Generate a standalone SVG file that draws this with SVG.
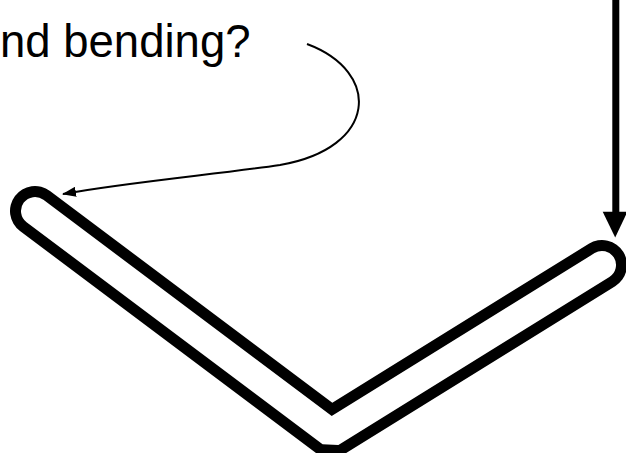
<svg xmlns="http://www.w3.org/2000/svg" width="626" height="453" viewBox="0 0 626 453">
  <defs>
    <style>
      .lbl { font-family: "Liberation Sans", Arial, sans-serif; font-size: 45.5px; fill: #000; }
      .outer { fill: none; stroke: #000; stroke-width: 50; stroke-linecap: round; stroke-linejoin: bevel; }
      .inner { fill: none; stroke: #fff; stroke-width: 28; stroke-linecap: round; stroke-linejoin: bevel; }
      .thin { fill: none; stroke: #000; stroke-width: 2; }
      .thick { fill: none; stroke: #000; stroke-width: 7; }
    </style>
    <marker id="ah" viewBox="0 0 14 10" refX="13" refY="5" markerWidth="14" markerHeight="10" markerUnits="userSpaceOnUse" orient="auto">
      <path d="M0,0 L14,5 L0,10 Z" fill="#000"/>
    </marker>
  </defs>
  <rect width="626" height="453" fill="#fff"/>
  <g id="label">
    <text class="lbl" x="0" y="57">nd bending?</text>
  </g>
  <g id="bar">
    <polyline class="outer" points="35,211 331,433 602,265"/>
    <polyline class="inner" points="35,211 331,433 602,265"/>
  </g>
  <g id="connectors">
    <path class="thin" d="M307,44 C382,72 378,148 280,165 C220,174 130,182 63,194" marker-end="url(#ah)"/>
    <line class="thick" x1="615.8" y1="0" x2="615.8" y2="213"/>
    <polygon points="602.7,211.7 627.5,211.7 615.2,237.5" fill="#000"/>
  </g>
</svg>
